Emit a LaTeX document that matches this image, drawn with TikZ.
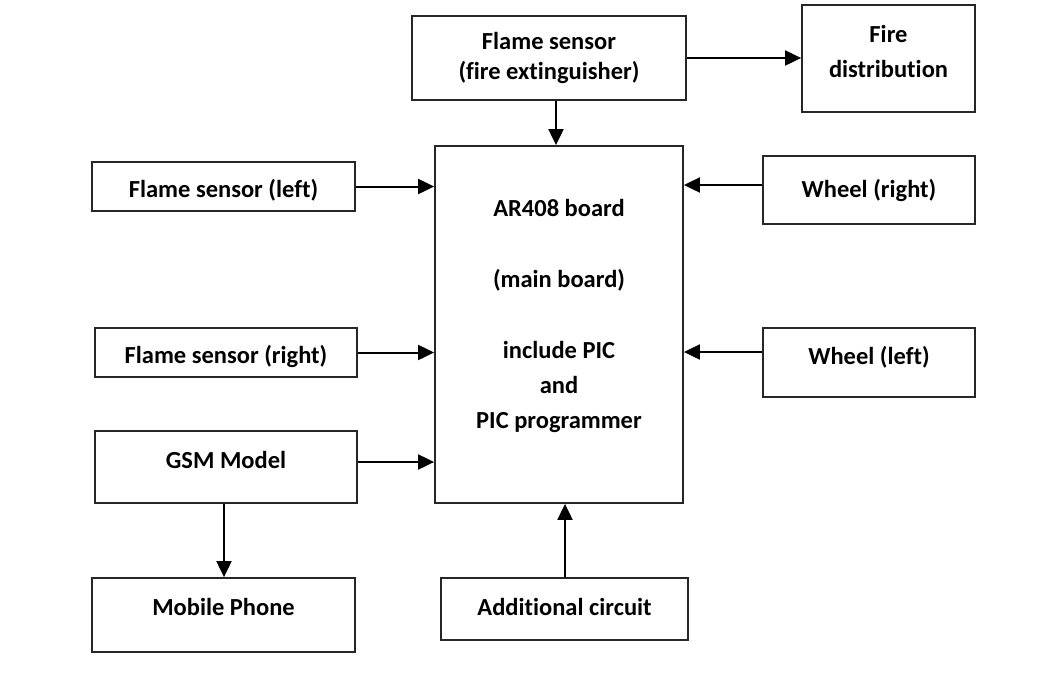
\documentclass[tikz,border=0pt]{standalone}
\usepackage{fontspec}
\setmainfont{Carlito}[Ligatures=NoCommon]
\usetikzlibrary{arrows.meta}

\tikzset{
  lbl/.style={font=\fontsize{24.5}{33}\selectfont\bfseries, align=center},
  blk/.style={draw=black!85, line width=1.8pt, minimum width=#1, inner sep=0pt, lbl},
  link/.style={line width=2pt, -{Triangle[length=16pt,width=15pt]}}
}

\begin{document}
\begin{tikzpicture}[x=1pt,y=-1pt]
\useasboundingbox (0,0) rectangle (1038,686);
% top row
\node[blk=274pt, minimum height=84pt, font=\fontsize{24.5}{30}\selectfont\bfseries] (flext) at (549,58) {Flame sensor\\(fire extinguisher)};
\node[blk=173pt, minimum height=107pt] (firedist) at (888.5,58.5) {};
\node[lbl, font=\fontsize{24.5}{35}\selectfont\bfseries] (firedisttxt) at (888.5,51) {Fire\\distribution};
% main board
\node[blk=248pt, minimum height=357pt] (board) at (559,324.5) {};
\node[lbl, font=\fontsize{24.5}{35}\selectfont\bfseries] (boardtxt) at (559,316)
  {AR408 board\\[36pt](main board)\\[36pt]include PIC\\and\\PIC programmer};
% left side
\node[blk=263pt, minimum height=49pt] (flleft) at (223.5,186.5) {};
\node[lbl] (fllefttxt) at (223.5,190) {Flame sensor (left)};
\node[blk=262pt, minimum height=49pt] (flright) at (226,352.5) {};
\node[lbl] (flrighttxt) at (226,356) {Flame sensor (right)};
\node[blk=262pt, minimum height=72pt] (gsm) at (226,467) {};
\node[lbl] (gsmtxt) at (226,460) {GSM Model};
\node[blk=263pt, minimum height=74pt] (phone) at (223.5,615) {};
\node[lbl] (phonetxt) at (223.5,607) {Mobile Phone};
% right side
\node[blk=212pt, minimum height=68pt] (whright) at (869,190) {Wheel (right)};
\node[blk=212pt, minimum height=69pt] (whleft) at (869,362.5) {};
\node[lbl] (whlefttxt) at (869,357) {Wheel (left)};
% bottom
\node[blk=247pt, minimum height=62pt] (addc) at (564.5,609) {};
\node[lbl] (addctxt) at (564.5,607) {Additional circuit};

% connectors
\draw[link] (flext.east) -- (firedist.west |- flext.east);
\draw[link] (flext.south -| board.north) ++(-3,0) coordinate (fx) (fx) -- (fx |- board.north);
\draw[link] (flleft.east) -- (board.west |- flleft.east);
\draw[link] (whright.west |- 0,185) -- (board.east |- 0,185);
\draw[link] (flright.east) -- (board.west |- flright.east);
\draw[link] (whleft.west |- 0,352) -- (board.east |- 0,352);
\draw[link] (gsm.east |- 0,462) -- (board.west |- 0,462);
\draw[link] (gsm.south -| 224,0) -- (phone.north -| 224,0);
\draw[link] (addc.north -| 565,0) -- (board.south -| 565,0);
\end{tikzpicture}
\end{document}
